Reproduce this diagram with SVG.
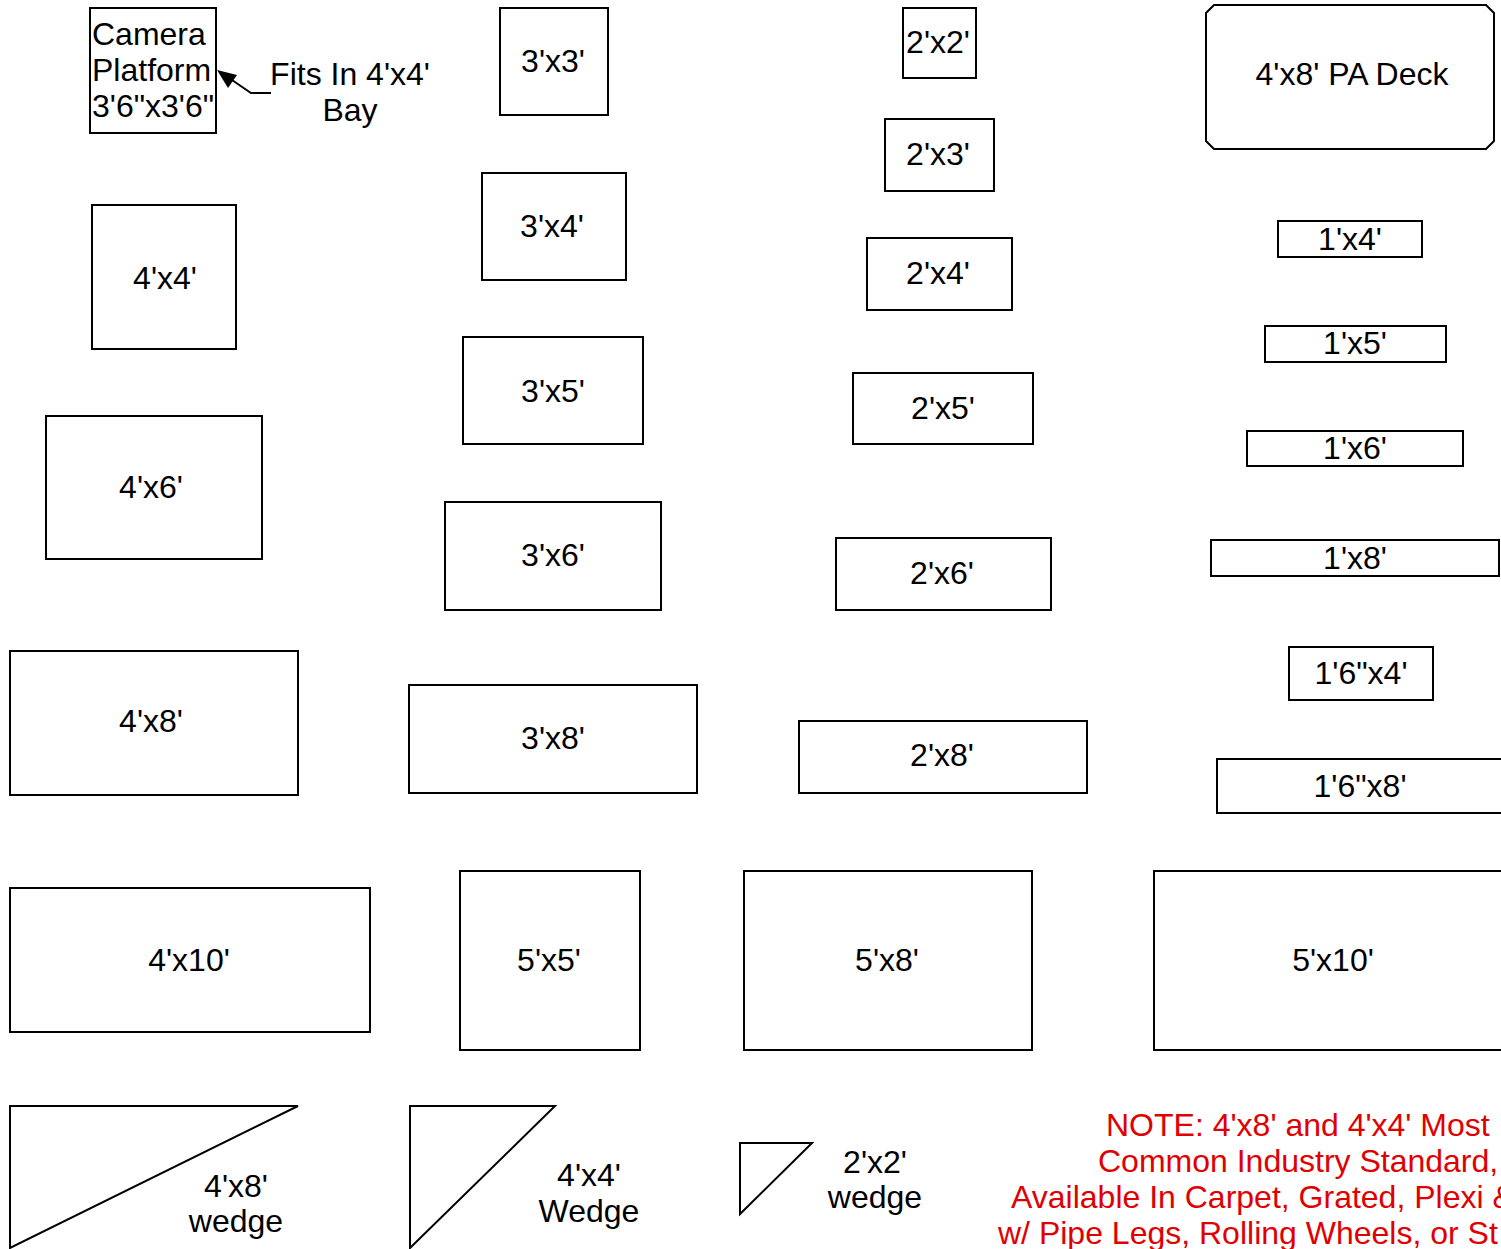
<svg xmlns="http://www.w3.org/2000/svg" width="1501" height="1249" viewBox="0 0 1501 1249">
<style>
.b{fill:#fff;stroke:#000;stroke-width:2}
.t{font-family:"Liberation Sans",Arial,sans-serif;font-size:32px;fill:#000;text-anchor:middle}
.l{text-anchor:start}
.n{font-family:"Liberation Sans",Arial,sans-serif;font-size:32px;fill:#e00000}
.c{fill:none;stroke:#000;stroke-width:2}
</style>
<rect width="1501" height="1249" fill="#fff"/>
<g id="camera"><rect class="b" x="90" y="8" width="126" height="125"/>
<text class="t l" x="92" y="45">Camera</text><text class="t l" x="92" y="81">Platform</text><text class="t l" x="92" y="117">3'6"x3'6"</text></g>
<g id="fits"><text class="t" x="350" y="85">Fits In 4'x4'</text><text class="t" x="350" y="121">Bay</text></g>
<g id="connectors"><path class="c" d="M271,93 L251,93 L232,80"/><path d="M217,70 L237,75 L228,88 z" fill="#000"/></g>
<g id="d3x3"><rect class="b" x="500" y="8" width="108" height="107"/><text class="t" x="553" y="72">3'x3'</text></g>
<g id="d2x2"><rect class="b" x="903" y="8" width="73" height="70"/><text class="t" x="938" y="53">2'x2'</text></g>
<g id="pa"><path class="b" d="M1214,5 L1486,5 L1494,13 L1494,141 L1486,149 L1214,149 L1206,141 L1206,13 z"/><text class="t" x="1352" y="85">4'x8' PA Deck</text></g>
<g id="d2x3"><rect class="b" x="885" y="119" width="109" height="72"/><text class="t" x="938" y="165">2'x3'</text></g>
<g id="d3x4"><rect class="b" x="482" y="173" width="144" height="107"/><text class="t" x="552" y="237">3'x4'</text></g>
<g id="d4x4"><rect class="b" x="92" y="205" width="144" height="144"/><text class="t" x="165" y="289">4'x4'</text></g>
<g id="d1x4"><rect class="b" x="1278" y="221" width="144" height="36"/><text class="t" x="1350" y="250">1'x4'</text></g>
<g id="d2x4"><rect class="b" x="867" y="238" width="145" height="72"/><text class="t" x="938" y="284">2'x4'</text></g>
<g id="d1x5"><rect class="b" x="1265" y="326" width="181" height="36"/><text class="t" x="1355" y="354">1'x5'</text></g>
<g id="d3x5"><rect class="b" x="463" y="337" width="180" height="107"/><text class="t" x="553" y="402">3'x5'</text></g>
<g id="d2x5"><rect class="b" x="853" y="373" width="180" height="71"/><text class="t" x="943" y="419">2'x5'</text></g>
<g id="d4x6"><rect class="b" x="46" y="416" width="216" height="143"/><text class="t" x="151" y="498">4'x6'</text></g>
<g id="d1x6"><rect class="b" x="1247" y="431" width="216" height="35"/><text class="t" x="1355" y="459">1'x6'</text></g>
<g id="d3x6"><rect class="b" x="445" y="502" width="216" height="108"/><text class="t" x="553" y="566">3'x6'</text></g>
<g id="d2x6"><rect class="b" x="836" y="538" width="215" height="72"/><text class="t" x="942" y="584">2'x6'</text></g>
<g id="d1x8"><rect class="b" x="1211" y="540" width="288" height="36"/><text class="t" x="1355" y="569">1'x8'</text></g>
<g id="d16x4"><rect class="b" x="1289" y="647" width="144" height="53"/><text class="t" x="1361" y="684">1'6"x4'</text></g>
<g id="d4x8"><rect class="b" x="10" y="651" width="288" height="144"/><text class="t" x="151" y="732">4'x8'</text></g>
<g id="d3x8"><rect class="b" x="409" y="685" width="288" height="108"/><text class="t" x="553" y="749">3'x8'</text></g>
<g id="d2x8"><rect class="b" x="799" y="721" width="288" height="72"/><text class="t" x="942" y="766">2'x8'</text></g>
<g id="d16x8"><rect class="b" x="1217" y="759" width="300" height="54"/><text class="t" x="1360" y="797">1'6"x8'</text></g>
<g id="d4x10"><rect class="b" x="10" y="888" width="360" height="144"/><text class="t" x="189" y="971">4'x10'</text></g>
<g id="d5x5"><rect class="b" x="460" y="871" width="180" height="179"/><text class="t" x="549" y="971">5'x5'</text></g>
<g id="d5x8"><rect class="b" x="744" y="871" width="288" height="179"/><text class="t" x="887" y="971">5'x8'</text></g>
<g id="d5x10"><rect class="b" x="1154" y="871" width="360" height="179"/><text class="t" x="1333" y="971">5'x10'</text></g>
<g id="w4x8"><path class="b" d="M10,1106 L298,1106 L10,1248 z"/><text class="t" x="236" y="1197">4'x8'</text><text class="t" x="236" y="1232">wedge</text></g>
<g id="w4x4"><path class="b" d="M410,1106 L555,1106 L410,1248 z"/><text class="t" x="589" y="1186">4'x4'</text><text class="t" x="589" y="1222">Wedge</text></g>
<g id="w2x2"><path class="b" d="M740,1143 L812,1143 L740,1214 z"/><text class="t" x="875" y="1173">2'x2'</text><text class="t" x="875" y="1208">wedge</text></g>
<g id="note">
<text class="n" x="1106" y="1136">NOTE: 4'x8' and 4'x4' Most</text>
<text class="n" x="1098" y="1172">Common Industry Standard,</text>
<text class="n" x="1011" y="1208">Available In Carpet, Grated, Plexi &amp;</text>
<text class="n" x="998" y="1244">w/ Pipe Legs, Rolling Wheels, or St</text>
</g>
</svg>
